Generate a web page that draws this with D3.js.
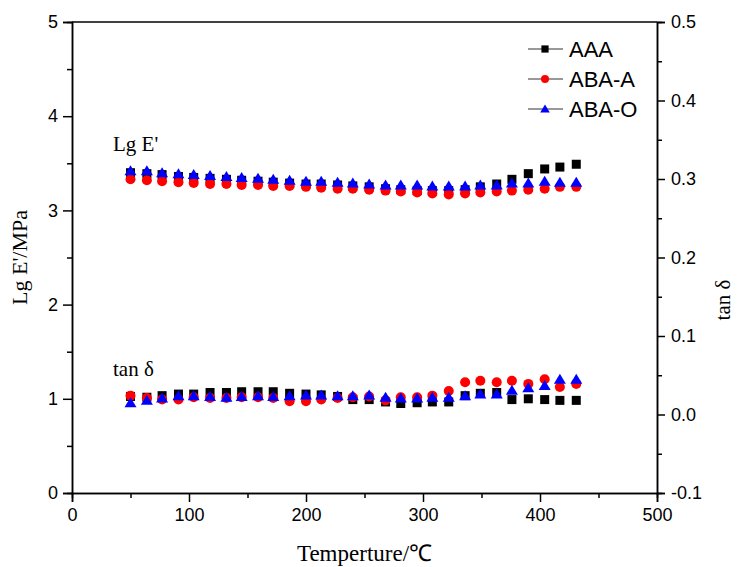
<!DOCTYPE html>
<html>
<head>
<meta charset="utf-8">
<script src="https://cdn.jsdelivr.net/npm/d3@7"></script>
<style>
  body { margin: 0; background: #fff; }
  text { fill: #000; }
</style>
</head>
<body>
<svg id="chart"></svg>
<script>
// temperature of each measurement point (°C)
const temps = [50, 64, 77, 91, 104, 118, 132, 145, 159, 172, 186, 200, 213, 227, 240,
               254, 268, 281, 295, 308, 322, 336, 349, 363, 376, 390, 404, 417, 431];

// Lg E' (left axis)
const lgAAA  = [3.40, 3.39, 3.38, 3.36, 3.35, 3.34, 3.33, 3.32, 3.31, 3.30, 3.29, 3.28, 3.28, 3.27, 3.26,
                3.25, 3.23, 3.22, 3.21, 3.21, 3.21, 3.22, 3.25, 3.28, 3.33, 3.39, 3.44, 3.46, 3.49];
const lgABAA = [3.33, 3.32, 3.31, 3.30, 3.29, 3.28, 3.28, 3.27, 3.27, 3.26, 3.26, 3.25, 3.24, 3.23, 3.23,
                3.22, 3.21, 3.20, 3.19, 3.18, 3.17, 3.18, 3.19, 3.20, 3.21, 3.22, 3.23, 3.25, 3.25];
const lgABAO = [3.42, 3.42, 3.40, 3.39, 3.38, 3.37, 3.36, 3.35, 3.34, 3.33, 3.32, 3.31, 3.31, 3.30, 3.29,
                3.28, 3.27, 3.27, 3.27, 3.26, 3.26, 3.26, 3.27, 3.27, 3.29, 3.29, 3.31, 3.30, 3.30];

// tan δ (right axis)
const tanAAA  = [0.023, 0.022, 0.024, 0.026, 0.026, 0.028, 0.028, 0.029, 0.029, 0.029, 0.027, 0.026, 0.025, 0.023, 0.019,
                 0.019, 0.016, 0.014, 0.015, 0.016, 0.016, 0.024, 0.027, 0.028, 0.019, 0.020, 0.019, 0.018, 0.018];
const tanABAA = [0.024, 0.021, 0.019, 0.019, 0.022, 0.021, 0.021, 0.022, 0.022, 0.021, 0.017, 0.017, 0.019, 0.021, 0.022,
                 0.023, 0.018, 0.022, 0.022, 0.024, 0.030, 0.041, 0.043, 0.041, 0.043, 0.039, 0.045, 0.035, 0.039];
const tanABAO = [0.015, 0.018, 0.021, 0.024, 0.024, 0.023, 0.022, 0.023, 0.024, 0.023, 0.024, 0.025, 0.025, 0.024, 0.024,
                 0.025, 0.022, 0.021, 0.021, 0.022, 0.022, 0.024, 0.026, 0.026, 0.031, 0.034, 0.037, 0.045, 0.045];

const seriesNames = ["AAA", "ABA-A", "ABA-O"];
const seriesColors = ["#000000", "#ff0000", "#0000ff"];
const xTicks = [0, 100, 200, 300, 400, 500];
const yLeftTicks = [0, 1, 2, 3, 4, 5];
const yRightTicks = [-0.1, 0.0, 0.1, 0.2, 0.3, 0.4, 0.5];

const width = 738, height = 567;
const margin = { left: 72, right: 81, top: 22, bottom: 74 };

const svg = d3.select("#chart")
    .attr("width", width)
    .attr("height", height)
    .style("font-family", "Arial, 'Liberation Sans', sans-serif");

const x = d3.scaleLinear().domain([0, 500]).range([margin.left, width - margin.right]);
const yL = d3.scaleLinear().domain([0, 5]).range([height - margin.bottom, margin.top]);
const yR = d3.scaleLinear().domain([-0.1, 0.5]).range([height - margin.bottom, margin.top]);

// frame top line
svg.append("line")
    .attr("x1", x(0)).attr("x2", x(500))
    .attr("y1", yL(5)).attr("y2", yL(5))
    .attr("stroke", "#000").attr("stroke-width", 1.5);

function styleAxis(g) {
    g.selectAll("path, line").attr("stroke", "#000").attr("stroke-width", 1.5);
    g.selectAll("text").attr("font-size", 18).attr("font-family", "Arial, 'Liberation Sans', sans-serif");
}

// minor ticks
svg.append("g")
    .attr("transform", `translate(0,${yL(0)})`)
    .call(d3.axisBottom(x).tickValues([50, 150, 250, 350, 450]).tickSize(5).tickFormat(""))
    .call(styleAxis);
svg.append("g")
    .attr("transform", `translate(${x(0)},0)`)
    .call(d3.axisLeft(yL).tickValues([0.5, 1.5, 2.5, 3.5, 4.5]).tickSize(5).tickFormat(""))
    .call(styleAxis);
svg.append("g")
    .attr("transform", `translate(${x(500)},0)`)
    .call(d3.axisRight(yR).tickValues([-0.05, 0.05, 0.15, 0.25, 0.35, 0.45]).tickSize(5).tickFormat(""))
    .call(styleAxis);

// major axes
svg.append("g")
    .attr("transform", `translate(0,${yL(0)})`)
    .call(d3.axisBottom(x).tickValues(xTicks).tickSize(9).tickPadding(6).tickFormat(d3.format("d")))
    .call(styleAxis);
svg.append("g")
    .attr("transform", `translate(${x(0)},0)`)
    .call(d3.axisLeft(yL).tickValues(yLeftTicks).tickSize(9).tickPadding(5).tickFormat(d3.format("d")))
    .call(styleAxis);
svg.append("g")
    .attr("transform", `translate(${x(500)},0)`)
    .call(d3.axisRight(yR).tickValues(yRightTicks).tickSize(8).tickPadding(6)
        .tickFormat(d => d.toFixed(1)))
    .call(styleAxis);

// axis titles
const serif = "'Times New Roman', 'Liberation Serif', serif";
svg.append("text")
    .attr("x", (x(0) + x(500)) / 2).attr("y", 561)
    .attr("text-anchor", "middle").attr("font-family", serif).attr("font-size", 23)
    .text("Temperture/℃");
svg.append("text")
    .attr("transform", `translate(27,${(yL(0) + yL(5)) / 2}) rotate(-90)`)
    .attr("text-anchor", "middle").attr("font-family", serif).attr("font-size", 22)
    .text("Lg E'/MPa");
svg.append("text")
    .attr("transform", `translate(730,300) rotate(-90)`)
    .attr("text-anchor", "middle").attr("font-family", serif).attr("font-size", 21)
    .text("tan δ");

// annotations
svg.append("text").attr("x", 113).attr("y", 151)
    .attr("font-family", serif).attr("font-size", 21).text("Lg E'");
svg.append("text").attr("x", 113).attr("y", 376)
    .attr("font-family", serif).attr("font-size", 21).text("tan δ");

// markers
const markers = [
    g => g.append("rect").attr("x", -4.5).attr("y", -4.5).attr("width", 9).attr("height", 9),
    g => g.append("circle").attr("r", 5),
    g => g.append("path").attr("d", "M0,-5.5L6,4.5L-6,4.5Z")
];

const lgSeries = [lgAAA, lgABAA, lgABAO];
const tanSeries = [tanAAA, tanABAA, tanABAO];

seriesNames.forEach((name, i) => {
    const pts = temps.map((t, k) => ({ t: t, lg: lgSeries[i][k], tan: tanSeries[i][k] }));
    const grp = svg.append("g").attr("fill", seriesColors[i]);

    grp.selectAll(".lg")
        .data(pts)
        .enter().append("g")
        .attr("transform", d => `translate(${x(d.t)},${yL(d.lg)})`)
        .each(function () { markers[i](d3.select(this)); });

    grp.selectAll(".tan")
        .data(pts)
        .enter().append("g")
        .attr("transform", d => `translate(${x(d.t)},${yR(d.tan)})`)
        .each(function () { markers[i](d3.select(this)); });
});

// legend
const legend = svg.append("g");
seriesNames.forEach((name, i) => {
    const ly = 49 + i * 30;
    legend.append("line")
        .attr("x1", 528).attr("x2", 563).attr("y1", ly).attr("y2", ly)
        .attr("stroke", "#333").attr("stroke-width", 1);
    const m = legend.append("g")
        .attr("fill", seriesColors[i])
        .attr("transform", `translate(545,${ly}) scale(0.8)`);
    markers[i](m);
    legend.append("text")
        .attr("x", 569).attr("y", ly + 8)
        .attr("font-size", 22)
        .text(name);
});
</script>
</body>
</html>
